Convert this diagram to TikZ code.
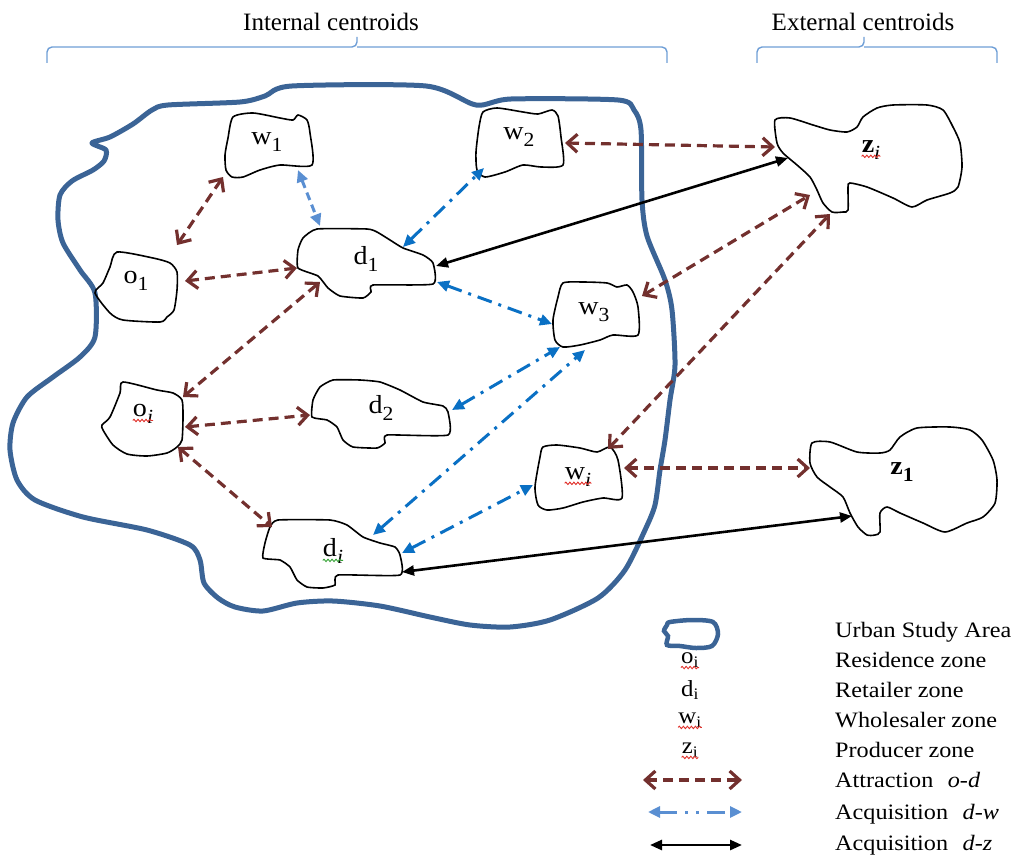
\documentclass[tikz,border=0pt]{standalone}
\usepackage{fontspec}
\setmainfont{Liberation Serif}
\usetikzlibrary{arrows.meta,calc,decorations.pathmorphing}
\definecolor{outl}{HTML}{3B6496}
\definecolor{brc}{HTML}{6E9ED6}
\definecolor{attr}{HTML}{73302E}
\definecolor{acq}{HTML}{0A70C4}
\definecolor{acql}{HTML}{5A8FD2}
\definecolor{wavr}{HTML}{E0302A}
\definecolor{wavg}{HTML}{2EA02E}
\newcommand{\zsub}[1]{\raisebox{-0.28em}{\fontsize{20}{20}\selectfont #1}}
\begin{document}
\begin{tikzpicture}[x=1pt,y=-1pt,
  zone/.style={draw=none,inner sep=0pt},
  blob/.style={draw=black,line width=1.6pt},
  lab/.style={inner sep=0pt,font=\fontsize{26}{28}\selectfont,xscale=1.08},
  llab/.style={inner sep=0pt,font=\fontsize{23}{25}\selectfont,xscale=1.08},
  ttl/.style={inner sep=0pt,font=\fontsize{25}{28}\selectfont},
  legt/.style={inner sep=0pt,font=\fontsize{22}{24}\selectfont,anchor=base west,xscale=1.1},
  brace/.style={draw=brc,line width=1.4pt,rounded corners=5pt},
  outline/.style={draw=outl,line width=5pt,line join=round},
  attrarr/.style={draw=attr,line width=3.2pt,dash pattern=on 10pt off 6pt,
    {Straight Barb[length=10pt,width=18pt]}-{Straight Barb[length=10pt,width=18pt]}},
  acqarr/.style={draw=acq,line width=3pt,dash pattern=on 15pt off 7pt on 3pt off 7pt,
    {Triangle[length=12pt,width=11pt]}-{Triangle[length=12pt,width=11pt]}},
  acqlt/.style={draw=acql,line width=3pt,dash pattern=on 8pt off 5pt,
    {Triangle[length=12pt,width=11pt]}-{Triangle[length=12pt,width=11pt]}},
  acqleg/.style={draw=acql,line width=3pt,dash pattern=on 18pt off 8pt on 3pt off 8pt on 3pt off 8pt,
    {Triangle[length=12pt,width=11pt]}-{Triangle[length=12pt,width=11pt]}},
  dzarr/.style={draw=black,line width=2.6pt,
    {Triangle[length=12pt,width=10pt]}-{Triangle[length=12pt,width=10pt]}},
  wavy/.style={decorate,decoration={snake,amplitude=1.2pt,segment length=4pt},line width=0.9pt}
]
\useasboundingbox (0,0) rectangle (1019,859);

% titles and braces
\node[ttl] (tin) at (331,22) {Internal centroids};
\node[ttl] (tex) at (863,22) {External centroids};
\draw[brace] (47,63) -- (47,47) -- (357,47) -- (357,37);
\draw[brace] (357,47) -- (667,47) -- (667,63);
\draw[brace] (757,63) -- (757,47) -- (864,47) -- (864,37);
\draw[brace] (864,47) -- (997,47) -- (997,63);

% urban study area
\draw[outline] plot[smooth cycle,tension=0.45] coordinates {
(92,143) (110,137) (133,124) (152,110) (168,105) (240,102) (265,96) (292,86) (426,86) (476,105) (511,99) (618,100) (634,110) (641,130) (642,200) (647,236) (665,280) (672,310) (675,365) (670,400) (665,440) (660,470) (655,505) (645,530) (625,570) (598,598) (550,620) (510,627) (470,625) (430,617) (380,606) (333,601) (297,603) (263,611) (235,607) (218,598) (204,583) (200,560) (190,545) (147,530) (83,517) (35,500) (17,480) (10,450) (13,423) (27,397) (53,377) (80,357) (95,337) (95,293) (80,270) (63,243) (58,220) (60,195) (72,181) (93,170) (104,161) (106,150)};

% zone shapes
\draw[blob] plot[smooth cycle,tension=0.4] coordinates {(117,252) (153,258) (170,263) (177,272) (177,290) (174,310) (167,317) (160,322) (123,320) (110,313) (95,293) (103,283) (110,267)};
\draw[blob] plot[smooth cycle,tension=0.4] coordinates {(233,117) (253,113) (280,118) (293,120) (298,115) (307,120) (310,133) (312,165) (280,165) (260,170) (243,177) (232,177) (226,170) (225,155) (228,138)};
\draw[blob] plot[smooth cycle,tension=0.4] coordinates {(483,112) (497,108) (523,112) (538,114) (552,110) (558,116) (561,137) (563,165) (541,167) (523,165) (505,172) (485,177) (477,170) (476,152) (479,127)};
\draw[blob] plot[smooth cycle,tension=0.3] coordinates {(317,229) (367,229) (377,232) (390,240) (403,248) (423,255) (433,263) (433,284) (373,285) (371,292) (363,298) (340,296) (328,288) (318,276) (298,268) (298,250) (303,238)};
\draw[blob] plot[smooth cycle,tension=0.3] coordinates {(333,380) (360,380) (380,382) (400,390) (423,402) (443,406) (448,412) (448,435) (387,435) (385,443) (377,448) (353,447) (343,440) (337,427) (327,420) (312,417) (313,400) (320,387)};
\draw[blob] plot[smooth cycle,tension=0.3] coordinates {(278,520) (330,520) (347,525) (363,537) (380,543) (395,547) (400,555) (400,575) (338,575) (335,585) (323,588) (307,587) (297,580) (290,567) (280,560) (263,558) (265,543) (270,527)};
\draw[blob] plot[smooth cycle,tension=0.4] coordinates {(123,382) (157,390) (173,393) (182,400) (183,417) (182,440) (177,447) (167,453) (147,456) (127,454) (113,445) (103,430) (102,425) (110,417) (120,393)};
\draw[blob] plot[smooth cycle,tension=0.4] coordinates {(563,283) (583,282) (607,283) (617,287) (627,285) (633,292) (638,307) (638,335) (613,335) (600,340) (580,345) (563,347) (555,340) (553,320) (558,297)};
\draw[blob] plot[smooth cycle,tension=0.4] coordinates {(543,447) (557,445) (580,448) (597,452) (610,447) (618,460) (622,498) (603,498) (583,502) (563,508) (547,510) (538,505) (535,487) (540,457)};
\draw[blob] plot[smooth cycle,tension=0.4] coordinates {(775,120) (790,118) (813,125) (830,130) (847,132) (857,127) (863,117) (877,108) (893,105) (927,105) (943,110) (953,127) (960,143) (962,167) (958,187) (950,193) (927,200) (912,207) (893,198) (867,187) (850,183) (848,187) (848,210) (843,212) (832,212) (823,203) (817,190) (810,177) (797,165) (783,153) (777,143)};
\draw[blob] plot[smooth cycle,tension=0.4] coordinates {(812,443) (830,442) (857,452) (880,453) (890,450) (900,437) (917,428) (950,427) (970,430) (982,440) (993,460) (997,480) (995,503) (983,517) (967,523) (945,532) (923,523) (900,513) (887,507) (880,513) (880,532) (875,535) (867,535) (858,527) (850,513) (843,497) (830,487) (817,477) (810,463)};

% zone nodes (bounding boxes)
\node[zone,minimum width=82pt,minimum height=70pt] (o1) at (136,287) {};
\node[zone,minimum width=87pt,minimum height=64pt] (w1) at (268.5,145) {};
\node[zone,minimum width=87pt,minimum height=70pt] (w2) at (519.5,143) {};
\node[zone,minimum width=135pt,minimum height=69pt] (d1) at (365.5,263.5) {};
\node[zone,minimum width=85pt,minimum height=65pt] (w3) at (595.5,314.5) {};
\node[zone,minimum width=81pt,minimum height=74pt] (oi) at (142.5,419) {};
\node[zone,minimum width=136pt,minimum height=68pt] (d2) at (380,414) {};
\node[zone,minimum width=137pt,minimum height=68pt] (di) at (331.5,554) {};
\node[zone,minimum width=87pt,minimum height=65pt] (wi) at (578.5,477.5) {};
\node[zone,minimum width=187pt,minimum height=107pt] (zi) at (868.5,158.5) {};
\node[zone,minimum width=187pt,minimum height=108pt] (z1) at (903.5,481) {};

% labels
\node[lab] (o1t) at (136,281) {o\zsub{1}};
\node[lab] (w1t) at (267,142) {w\zsub{1}};
\node[lab] (w2t) at (519,137) {w\zsub{2}};
\node[lab] (d1t) at (366,259) {d\zsub{1}};
\node[lab] (w3t) at (594,312) {w\zsub{3}};
\node[lab] (oit) at (143,414) {o\zsub{\textit{i}}};
\node[lab] (d2t) at (381,408) {d\zsub{2}};
\node[lab] (dit) at (333,551) {d\zsub{\textit{i}}};
\node[lab] (wit) at (578,477) {w\zsub{\textit{i}}};
\node[lab] (zit) at (871,150) {\textbf{z}\zsub{\textit{i}}};
\node[lab] (z1t) at (902,472) {\textbf{z}\zsub{\textbf{1}}};
\draw[wavy,wavr] ([yshift=-4pt]oit.base west) -- ([yshift=-4pt]oit.base east);
\draw[wavy,wavg] ([yshift=-4pt]dit.base west) -- ([yshift=-4pt]dit.base east);
\draw[wavy,wavr] ([yshift=-4pt]wit.base west) -- ([yshift=-4pt]wit.base east);
\draw[wavy,wavr] ([yshift=-4pt]zit.base west) -- ([yshift=-4pt]zit.base east);

% attraction o-d
\draw[attrarr] ($(o1)+(41,-42)$) -- ($(w1)+(-45.5,32)$);
\draw[attrarr] ($(o1)+(49,-6)$) -- ($(d1)+(-68.5,4.5)$);
\draw[attrarr] ($(oi)+(40.5,-22)$) -- ($(d1)+(-45.5,18.5)$);
\draw[attrarr] ($(oi)+(42.5,8)$) -- ($(d2)+(-70,1)$);
\draw[attrarr] ($(oi)+(35.5,28)$) -- ($(di)+(-59.5,-27)$);
\draw[attrarr] ($(w2)+(45.5,0)$) -- ($(zi)+(-93.5,-11.5)$);
\draw[attrarr] ($(w3)+(46.5,-18.5)$) -- ($(zi)+(-58.5,36.5)$);
\draw[attrarr] ($(wi)+(29.5,-28.5)$) -- ($(zi)+(-38.5,55.5)$);
\draw[attrarr] ($(wi)+(45.5,-9.5)$) -- ($(z1)+(-93.5,-13)$);

% acquisition d-w
\draw[acqlt] ($(w1)+(29.5,25)$) -- ($(d1)+(-45.5,-37.5)$);
\draw[acqarr] ($(d1)+(37.5,-16.5)$) -- ($(w2)+(-35.5,25)$);
\draw[acqarr] ($(d1)+(71.5,18.5)$) -- ($(w3)+(-43.5,9.5)$);
\draw[acqarr] ($(d2)+(72,-4)$) -- ($(w3)+(-35.5,32.5)$);
\draw[acqarr] ($(di)+(41.5,-19)$) -- ($(w3)+(-10.5,35.5)$);
\draw[acqarr] ($(di)+(70.5,-1)$) -- ($(wi)+(-45.5,7.5)$);

% acquisition d-z
\draw[dzarr] ($(d1)+(70.5,2.5)$) -- ($(zi)+(-80.5,-0.5)$);
\draw[dzarr] ($(di)+(70.5,18)$) -- ($(z1)+(-51.5,35)$);

% legend
\draw[draw=outl,line width=4.5pt] plot[smooth cycle,tension=0.5] coordinates {(670,622) (692,620) (713,622) (718,634) (712,646) (696,648) (680,646) (667,645) (668,636) (664,631) (667,625)};
\node[llab] (lo) at (690,660) {o\textsubscript{i}};
\node[llab] (ld) at (690,690) {d\textsubscript{i}};
\node[llab] (lw) at (690,720) {w\textsubscript{i}};
\node[llab] (lz) at (690,750) {z\textsubscript{i}};
\draw[wavy,wavr] ([yshift=-4pt]lo.base west) -- ([yshift=-4pt]lo.base east);
\draw[wavy,wavr] ([yshift=-4pt]lw.base west) -- ([yshift=-4pt]lw.base east);
\draw[wavy,wavr] ([yshift=-4pt]lz.base west) -- ([yshift=-4pt]lz.base east);
\coordinate (la1) at (643,780); \coordinate (la2) at (742,780);
\coordinate (lb1) at (648,812); \coordinate (lb2) at (742,812);
\coordinate (lc1) at (650,845); \coordinate (lc2) at (742,845);
\draw[attrarr] (la1) -- (la2);
\draw[acqleg] (lb1) -- (lb2);
\draw[dzarr] (lc1) -- (lc2);
\node[legt] (t1) at (835,637) {Urban Study Area};
\node[legt] (t2) at (835,667) {Residence zone};
\node[legt] (t3) at (835,697) {Retailer zone};
\node[legt] (t4) at (835,727) {Wholesaler zone};
\node[legt] (t5) at (835,757) {Producer zone};
\node[legt] (t6) at (835,787) {Attraction\hspace{0.6em}\textit{o-d}};
\node[legt] (t7) at (835,819) {Acquisition\hspace{0.6em}\textit{d-w}};
\node[legt] (t8) at (835,850) {Acquisition\hspace{0.6em}\textit{d-z}};
\end{tikzpicture}
\end{document}
